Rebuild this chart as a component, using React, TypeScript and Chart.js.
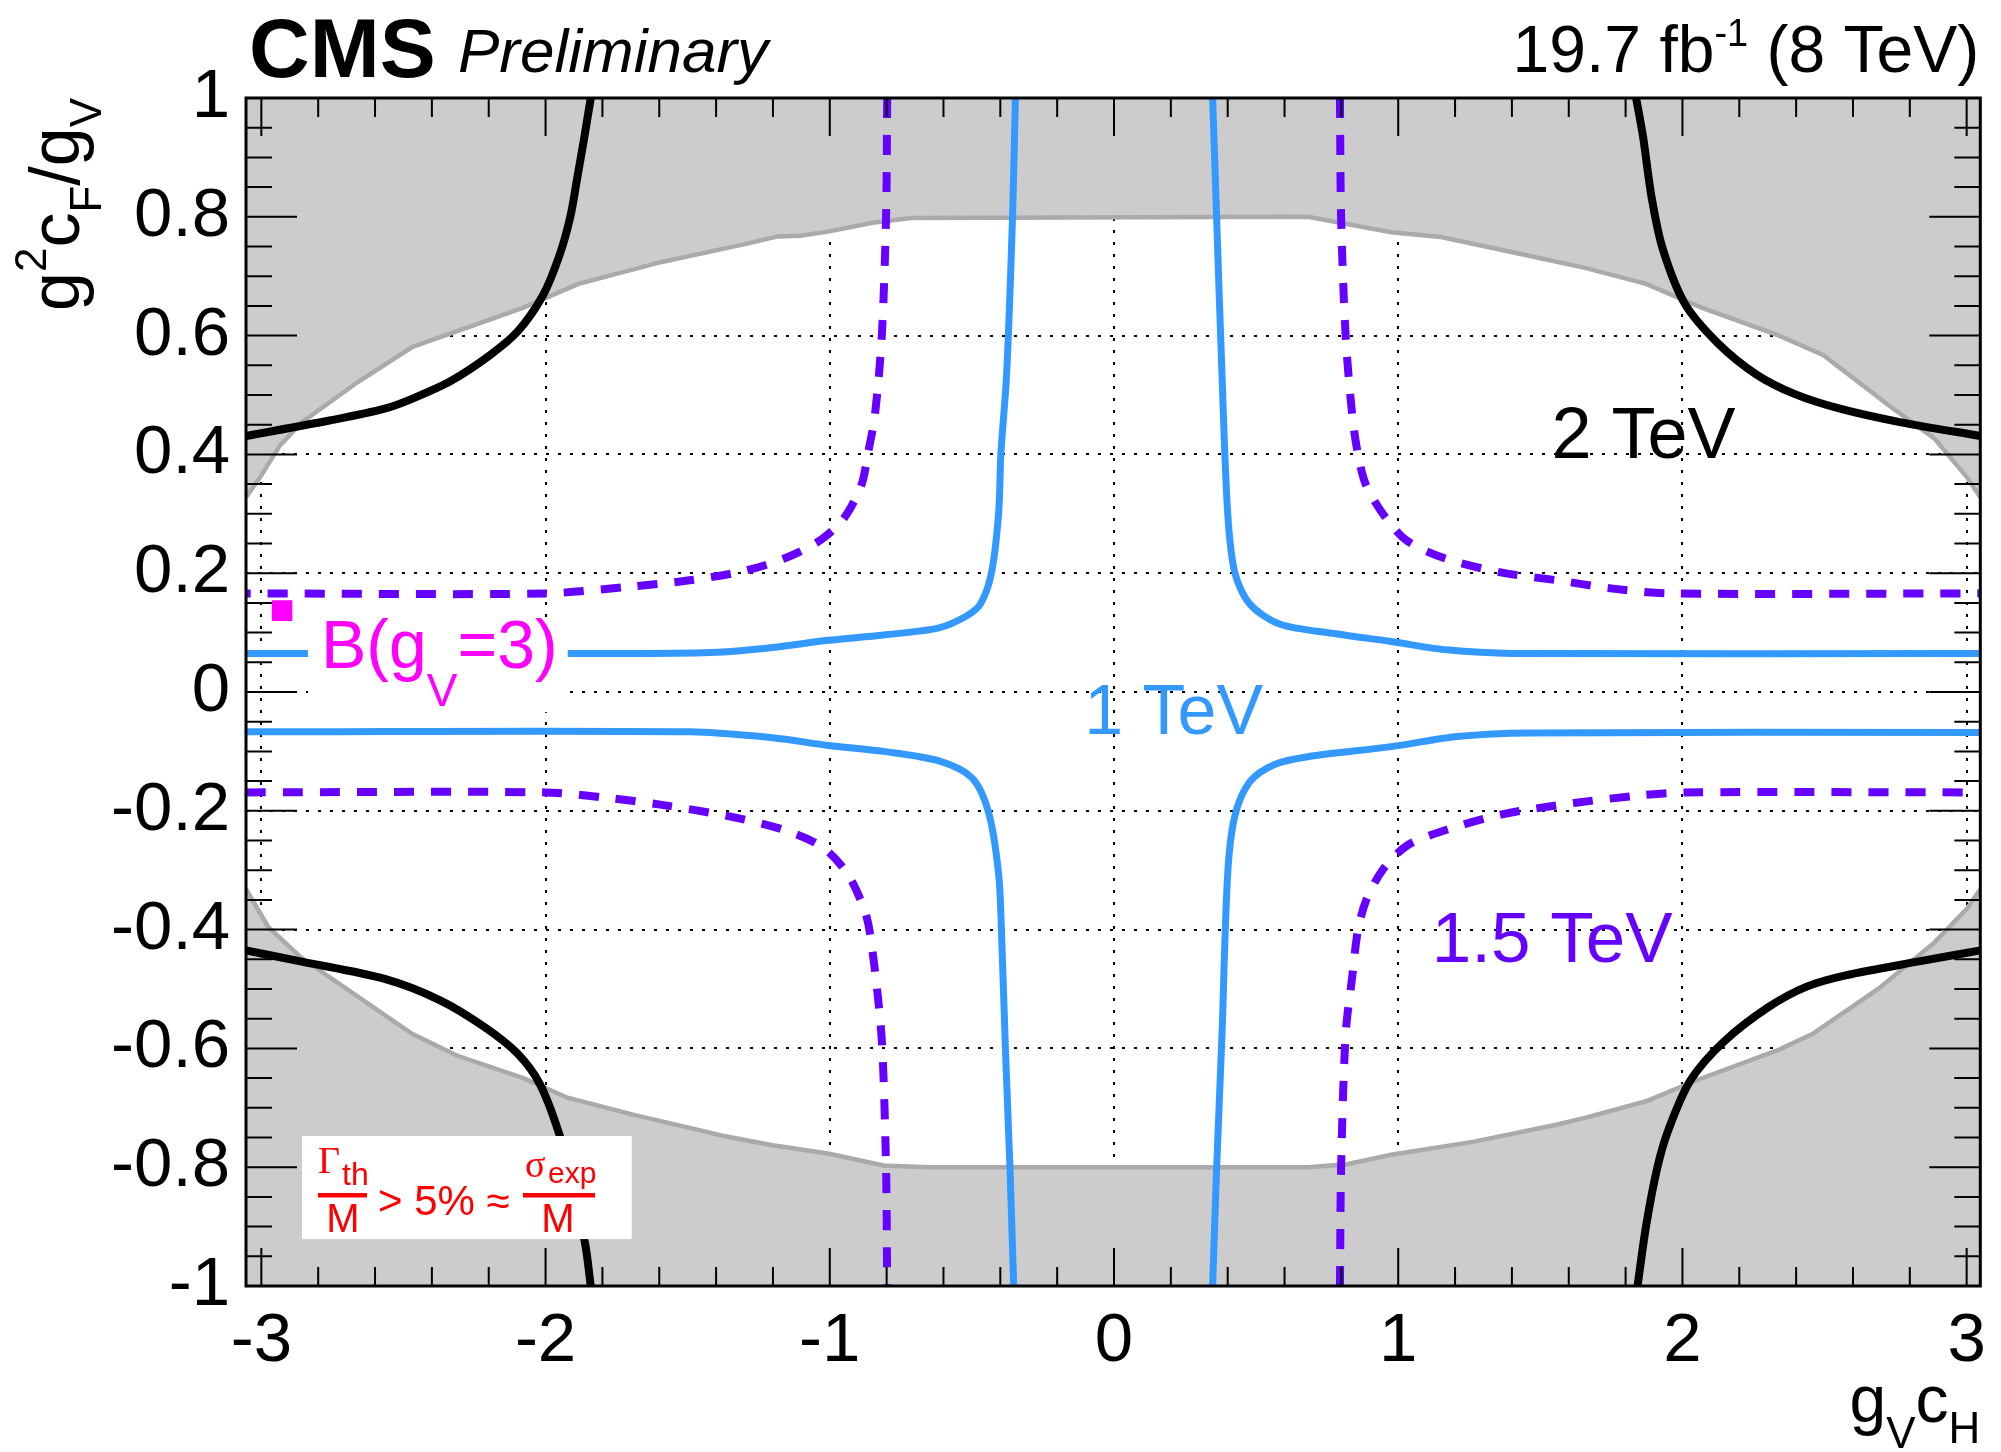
import React, { useEffect, useRef } from "react";
import { Chart, registerables } from "chart.js";

Chart.register(...registerables);

// ---------- axes ----------
const xRange = [-3.054, 3.048];
const yRange = [-1, 1];
const xTickValues = [-3, -2, -1, 0, 1, 2, 3];
const yTickValues = [-1, -0.8, -0.6, -0.4, -0.2, 0, 0.2, 0.4, 0.6, 0.8, 1];

type P = [number, number];

// ---------- 2 TeV contour (black) ----------
const tev2UpperLeft: P[] = [
  [-1.841, 1.0], [-1.864, 0.933], [-1.888, 0.867], [-1.913, 0.8], [-1.952, 0.734],
  [-2.01, 0.667], [-2.098, 0.607], [-2.196, 0.567], [-2.332, 0.524], [-2.468, 0.494],
  [-2.566, 0.477], [-2.761, 0.457], [-3.054, 0.431],
];
const tev2UpperRight: P[] = [
  [1.837, 1.0], [1.862, 0.933], [1.891, 0.834], [1.93, 0.747], [2.008, 0.654],
  [2.125, 0.587], [2.262, 0.534], [2.398, 0.501], [2.554, 0.477], [2.769, 0.454], [3.048, 0.431],
];
const tev2LowerLeft: P[] = [
  [-3.054, -0.435], [-2.858, -0.454], [-2.566, -0.483], [-2.371, -0.519], [-2.215, -0.564],
  [-2.098, -0.609], [-2.02, -0.66], [-1.952, -0.744], [-1.903, -0.834], [-1.86, -0.931], [-1.841, -1.0],
];
const tev2LowerRight: P[] = [
  [1.842, -1.0], [1.872, -0.899], [1.911, -0.802], [1.95, -0.738], [2.028, -0.654],
  [2.145, -0.589], [2.301, -0.531], [2.437, -0.496], [2.574, -0.477], [2.827, -0.454], [3.048, -0.435],
];

// ---------- 1 TeV contour (blue) ----------
const tev1UpperLeft: P[] = [
  [-0.347, 1.0], [-0.357, 0.8], [-0.378, 0.534], [-0.398, 0.401], [-0.406, 0.301],
  [-0.431, 0.201], [-0.47, 0.148], [-0.519, 0.128], [-0.616, 0.108], [-0.811, 0.096],
  [-1.006, 0.087], [-1.201, 0.075], [-1.396, 0.067], [-1.689, 0.065], [-3.054, 0.065],
];
const tev1UpperRight: P[] = [
  [0.347, 1.0], [0.361, 0.8], [0.38, 0.534], [0.4, 0.301], [0.425, 0.201], [0.478, 0.148],
  [0.585, 0.114], [0.78, 0.098], [0.975, 0.085], [1.17, 0.071], [1.404, 0.065], [3.048, 0.065],
];
const tev1LowerLeft: P[] = [
  [-3.054, -0.067], [-1.494, -0.067], [-1.201, -0.077], [-1.006, -0.09], [-0.811, -0.1],
  [-0.616, -0.116], [-0.499, -0.145], [-0.441, -0.203], [-0.406, -0.306], [-0.396, -0.402],
  [-0.382, -0.602], [-0.366, -0.802], [-0.353, -1.0],
];
const tev1LowerRight: P[] = [
  [0.347, -1.0], [0.361, -0.802], [0.38, -0.576], [0.4, -0.306], [0.425, -0.209], [0.478, -0.151],
  [0.565, -0.122], [0.682, -0.109], [0.975, -0.092], [1.209, -0.075], [1.462, -0.069], [3.048, -0.068],
];

// ---------- 1.5 TeV contour (violet, dashed) ----------
const tev15UpperLeft: P[] = [
  [-0.798, 1.0], [-0.802, 0.8], [-0.817, 0.6], [-0.841, 0.467], [-0.866, 0.401], [-0.889, 0.348],
  [-0.948, 0.294], [-1.026, 0.258], [-1.143, 0.228], [-1.299, 0.204], [-1.494, 0.188],
  [-1.689, 0.178], [-2.0, 0.166], [-3.054, 0.166],
];
const tev15UpperRight: P[] = [
  [0.795, 1.0], [0.799, 0.8], [0.815, 0.6], [0.838, 0.467], [0.858, 0.401], [0.887, 0.348],
  [0.955, 0.294], [1.033, 0.254], [1.17, 0.224], [1.365, 0.201], [1.56, 0.188], [1.755, 0.174],
  [1.95, 0.166], [3.048, 0.166],
];
const tev15LowerLeft: P[] = [
  [-3.054, -0.169], [-2.0, -0.169], [-1.786, -0.178], [-1.591, -0.19], [-1.357, -0.209],
  [-1.162, -0.232], [-1.026, -0.261], [-0.938, -0.306], [-0.88, -0.364], [-0.86, -0.402],
  [-0.831, -0.512], [-0.815, -0.602], [-0.802, -0.802], [-0.798, -1.0],
];
const tev15LowerRight: P[] = [
  [0.795, -1.0], [0.799, -0.802], [0.815, -0.576], [0.838, -0.48], [0.858, -0.402], [0.887, -0.351],
  [0.946, -0.299], [1.033, -0.258], [1.17, -0.232], [1.365, -0.206], [1.618, -0.187],
  [1.852, -0.174], [2.008, -0.169], [3.048, -0.169],
];

// ---------- Γ/M > 5% region boundary (grey) ----------
const widthUpper: P[] = [
  [-3.054, 0.328], [-3.005, 0.361], [-2.936, 0.414], [-2.858, 0.454], [-2.663, 0.521],
  [-2.468, 0.581], [-2.273, 0.614], [-2.078, 0.647], [-1.884, 0.687], [-1.591, 0.724],
  [-1.299, 0.754], [-1.182, 0.767], [-1.104, 0.768], [-1.006, 0.775], [-0.85, 0.79],
  [-0.714, 0.798], [0.682, 0.8], [0.819, 0.788], [0.975, 0.774], [1.15, 0.766], [1.365, 0.744],
  [1.657, 0.714], [1.872, 0.687], [2.067, 0.647], [2.34, 0.6], [2.496, 0.567], [2.73, 0.481],
  [2.886, 0.427], [3.002, 0.361], [3.048, 0.328],
];
const widthLower: P[] = [
  [-3.054, -0.332], [-2.975, -0.396], [-2.858, -0.448], [-2.663, -0.512], [-2.468, -0.576],
  [-2.312, -0.612], [-2.078, -0.65], [-1.923, -0.683], [-1.689, -0.712], [-1.455, -0.738],
  [-1.377, -0.747], [-1.201, -0.763], [-1.006, -0.777], [-0.811, -0.797], [-0.655, -0.8],
  [0.682, -0.8], [0.819, -0.795], [0.975, -0.779], [1.267, -0.757], [1.56, -0.728],
  [1.657, -0.717], [1.872, -0.689], [2.047, -0.654], [2.34, -0.602], [2.457, -0.576],
  [2.691, -0.499], [2.886, -0.422], [3.002, -0.364], [3.048, -0.332],
];

// ---------- benchmark point ----------
const benchmarkB: P[] = [[-2.927, 0.137]];

// ---------- styling ----------
const SANS = '"Liberation Sans", Arial, Helvetica, sans-serif';
const SERIF = '"Liberation Serif", "Times New Roman", serif';
const C_BLACK = "#000000";
const C_BLUE = "#3399ff";
const C_VIOLET = "#6600ff";
const C_MAGENTA = "#ff00ff";
const C_RED = "#ff0000";

const toXY = (a: P[]) => a.map(([x, y]) => ({ x, y }));
const fmt = (v: number) => {
  const r = Math.round(v * 10) / 10;
  return (Object.is(r, -0) ? 0 : r).toString();
};

type Seg = { t: string; size: number; dy?: number; family?: string; weight?: string; style?: string };
function fontOf(s: Seg) {
  return `${s.style || "normal"} ${s.weight || "normal"} ${s.size}px ${s.family || SANS}`;
}
function richWidth(ctx: CanvasRenderingContext2D, segs: Seg[]) {
  let w = 0;
  for (const s of segs) {
    ctx.font = fontOf(s);
    w += ctx.measureText(s.t).width;
  }
  return w;
}
function drawRich(ctx: CanvasRenderingContext2D, segs: Seg[], x: number, y: number, color: string, align: "left" | "right" | "center" = "left") {
  const w = richWidth(ctx, segs);
  let cx = align === "right" ? x - w : align === "center" ? x - w / 2 : x;
  ctx.fillStyle = color;
  ctx.textAlign = "left";
  ctx.textBaseline = "alphabetic";
  for (const s of segs) {
    ctx.font = fontOf(s);
    ctx.fillText(s.t, cx, y + (s.dy || 0));
    cx += ctx.measureText(s.t).width;
  }
}

const cmsPlugin = {
  id: "cmsDecor",
  beforeDatasetsDraw(chart: any) {
    const { ctx, chartArea: a, scales } = chart;
    ctx.save();
    ctx.strokeStyle = "#000";
    ctx.lineWidth = 2;
    ctx.setLineDash([3, 9]);
    ctx.beginPath();
    for (const v of xTickValues) {
      const px = Math.round(scales.x.getPixelForValue(v));
      ctx.moveTo(px, a.top);
      ctx.lineTo(px, a.bottom);
    }
    for (const v of yTickValues) {
      const py = Math.round(scales.y.getPixelForValue(v));
      ctx.moveTo(a.left, py);
      ctx.lineTo(a.right, py);
    }
    ctx.stroke();
    ctx.restore();
  },
  afterDatasetsDraw(chart: any) {
    const { ctx, chartArea: a, scales } = chart;
    const X = (v: number) => scales.x.getPixelForValue(v);
    const Y = (v: number) => scales.y.getPixelForValue(v);
    ctx.save();

    // B(gV=3) label with white box
    {
      const l = X(-2.836), r = X(-1.922), t = Y(0.108), b = Y(-0.034);
      ctx.fillStyle = "#fff";
      ctx.fillRect(l, t, r - l, b - t);
      drawRich(ctx, [
        { t: "B(g", size: 68 },
        { t: "V", size: 46, dy: 38 },
        { t: "=3)", size: 68 },
      ], l + 13, t + 40, C_MAGENTA);
    }

    // curve labels
    drawRich(ctx, [{ t: "2 TeV", size: 72 }], X(1.539), Y(0.394), C_BLACK);
    drawRich(ctx, [{ t: "1 TeV", size: 70 }], X(-0.105), Y(-0.0707), C_BLUE);
    drawRich(ctx, [{ t: "1.5 TeV", size: 71 }], X(1.118), Y(-0.4545), C_VIOLET);

    // width formula box
    {
      const l = X(-2.857), r = X(-1.697), t = Y(-0.7475), b = Y(-0.921);
      ctx.fillStyle = "#fff";
      ctx.fillRect(l, t, r - l, b - t);
      drawRich(ctx, [{ t: "Γ", size: 38, family: SERIF }], l + 16, t + 37, C_RED);
      drawRich(ctx, [{ t: "th", size: 32 }], l + 40, t + 49, C_RED);
      ctx.fillStyle = C_RED;
      ctx.fillRect(l + 16, t + 57, 49, 4.5);
      drawRich(ctx, [{ t: "M", size: 40 }], l + 41, t + 96, C_RED, "center");
      drawRich(ctx, [{ t: "> 5% ≈", size: 42 }], l + 76, t + 79, C_RED);
      drawRich(ctx, [{ t: "σ", size: 38, family: SERIF }], l + 223, t + 41, C_RED);
      drawRich(ctx, [{ t: "exp", size: 30 }], l + 246, t + 47, C_RED);
      ctx.fillStyle = C_RED;
      ctx.fillRect(l + 221, t + 57, 72, 4.5);
      drawRich(ctx, [{ t: "M", size: 40 }], l + 256, t + 96, C_RED, "center");
    }

    // ticks on all four sides, inside the frame
    ctx.strokeStyle = "#000";
    ctx.lineWidth = 2;
    ctx.setLineDash([]);
    ctx.beginPath();
    for (let i = -15; i <= 15; i++) {
      const v = i / 5;
      if (v < xRange[0] || v > xRange[1]) continue;
      const len = i % 5 === 0 ? 38 : 19;
      const px = X(v);
      ctx.moveTo(px, a.bottom);
      ctx.lineTo(px, a.bottom - len);
      ctx.moveTo(px, a.top);
      ctx.lineTo(px, a.top + len);
    }
    for (let i = -20; i <= 20; i++) {
      const v = i * 0.05;
      const len = i % 4 === 0 ? 51 : 26;
      const py = Y(v);
      ctx.moveTo(a.left, py);
      ctx.lineTo(a.left + len, py);
      ctx.moveTo(a.right, py);
      ctx.lineTo(a.right - len, py);
    }
    ctx.stroke();
    ctx.lineWidth = 3;
    ctx.strokeRect(a.left, a.top, a.right - a.left, a.bottom - a.top);
    ctx.restore();
  },
  afterDraw(chart: any) {
    const { ctx, chartArea: a } = chart;
    ctx.save();
    // CMS Preliminary
    drawRich(ctx, [{ t: "CMS", size: 84, weight: "bold" }], a.left + 3, 77, C_BLACK);
    drawRich(ctx, [{ t: "Preliminary", size: 62, style: "italic" }], 458, 72, C_BLACK);
    // lumi
    drawRich(ctx, [
      { t: "19.7 fb", size: 66 },
      { t: "-1", size: 38, dy: -26 },
      { t: " (8 TeV)", size: 66 },
    ], a.right - 1, 72, C_BLACK, "right");
    // x title
    drawRich(ctx, [
      { t: "g", size: 66 },
      { t: "V", size: 44, dy: 26 },
      { t: "c", size: 66 },
      { t: "H", size: 44, dy: 21 },
    ], a.right, 1422, C_BLACK, "right");
    // y title (rotated)
    ctx.translate(79, a.top);
    ctx.rotate(-Math.PI / 2);
    drawRich(ctx, [
      { t: "g", size: 70 },
      { t: "2", size: 44, dy: -33 },
      { t: "c", size: 70 },
      { t: "F", size: 44, dy: 22 },
      { t: "/g", size: 70 },
      { t: "V", size: 44, dy: 22 },
    ], 0, 0, C_BLACK, "right");
    ctx.restore();
  },
};

function lineDs(data: P[], color: string, width: number, dash: number[] = [], order = 2) {
  return {
    data: toXY(data),
    borderColor: color,
    borderWidth: width,
    borderDash: dash,
    pointRadius: 0,
    fill: false,
    tension: 0.3,
    borderJoinStyle: "round",
    order,
  };
}

export default function App() {
  const ref = useRef<HTMLCanvasElement>(null);
  useEffect(() => {
    document.body.style.margin = "0";
    const canvas = ref.current!;
    const datasets: any[] = [
      {
        data: toXY(benchmarkB),
        showLine: false,
        pointStyle: "rect",
        pointRadius: 14.5,
        pointBackgroundColor: C_MAGENTA,
        pointBorderWidth: 0,
        order: 0,
      },
      lineDs(tev1UpperLeft, C_BLUE, 7, [], 1),
      lineDs(tev1UpperRight, C_BLUE, 7, [], 1),
      lineDs(tev1LowerLeft, C_BLUE, 7, [], 1),
      lineDs(tev1LowerRight, C_BLUE, 7, [], 1),
      lineDs(tev15UpperLeft, C_VIOLET, 8, [20, 17], 2),
      lineDs(tev15UpperRight, C_VIOLET, 8, [20, 17], 2),
      lineDs(tev15LowerLeft, C_VIOLET, 8, [20, 17], 2),
      lineDs(tev15LowerRight, C_VIOLET, 8, [20, 17], 2),
      lineDs(tev2UpperLeft, C_BLACK, 8, [], 3),
      lineDs(tev2UpperRight, C_BLACK, 8, [], 3),
      lineDs(tev2LowerLeft, C_BLACK, 8, [], 3),
      lineDs(tev2LowerRight, C_BLACK, 8, [], 3),
      {
        data: toXY(widthUpper),
        borderColor: "#aaaaaa",
        borderWidth: 4.5,
        backgroundColor: "#cccccc",
        fill: "end",
        pointRadius: 0,
        tension: 0,
        order: 10,
      },
      {
        data: toXY(widthLower),
        borderColor: "#aaaaaa",
        borderWidth: 4.5,
        backgroundColor: "#cccccc",
        fill: "start",
        pointRadius: 0,
        tension: 0,
        order: 10,
      },
    ];
    const chart = new Chart(canvas, {
      type: "line",
      data: { datasets },
      options: {
        animation: false,
        responsive: false,
        maintainAspectRatio: false,
        devicePixelRatio: 1,
        events: [],
        layout: { padding: { left: 0, top: 98, right: 19, bottom: 0 } },
        plugins: { legend: { display: false }, tooltip: { enabled: false } },
        scales: {
          x: {
            type: "linear",
            min: xRange[0],
            max: xRange[1],
            grid: { display: false, drawTicks: false },
            border: { display: false },
            afterBuildTicks: (s: any) => {
              s.ticks = xTickValues.map((v) => ({ value: v }));
            },
            afterFit: (s: any) => {
              s.height = 166;
            },
            ticks: {
              autoSkip: false,
              maxRotation: 0,
              padding: 15,
              color: "#000",
              font: { family: SANS, size: 69 },
              callback: (v: any) => fmt(Number(v)),
            },
          },
          y: {
            type: "linear",
            min: yRange[0],
            max: yRange[1],
            grid: { display: false, drawTicks: false },
            border: { display: false },
            afterBuildTicks: (s: any) => {
              s.ticks = yTickValues.map((v) => ({ value: v }));
            },
            afterFit: (s: any) => {
              s.width = 246;
            },
            ticks: {
              autoSkip: false,
              padding: 16,
              color: "#000",
              font: { family: SANS, size: 69 },
              callback: (v: any) => fmt(Number(v)),
            },
          },
        },
      },
      plugins: [cmsPlugin],
    } as any);
    return () => chart.destroy();
  }, []);
  return (
    <div style={{ position: "absolute", left: 0, top: 0, width: 2001, height: 1452, background: "#fff" }}>
      <canvas ref={ref} width={2001} height={1452} style={{ width: 2001, height: 1452, display: "block" }} />
    </div>
  );
}
